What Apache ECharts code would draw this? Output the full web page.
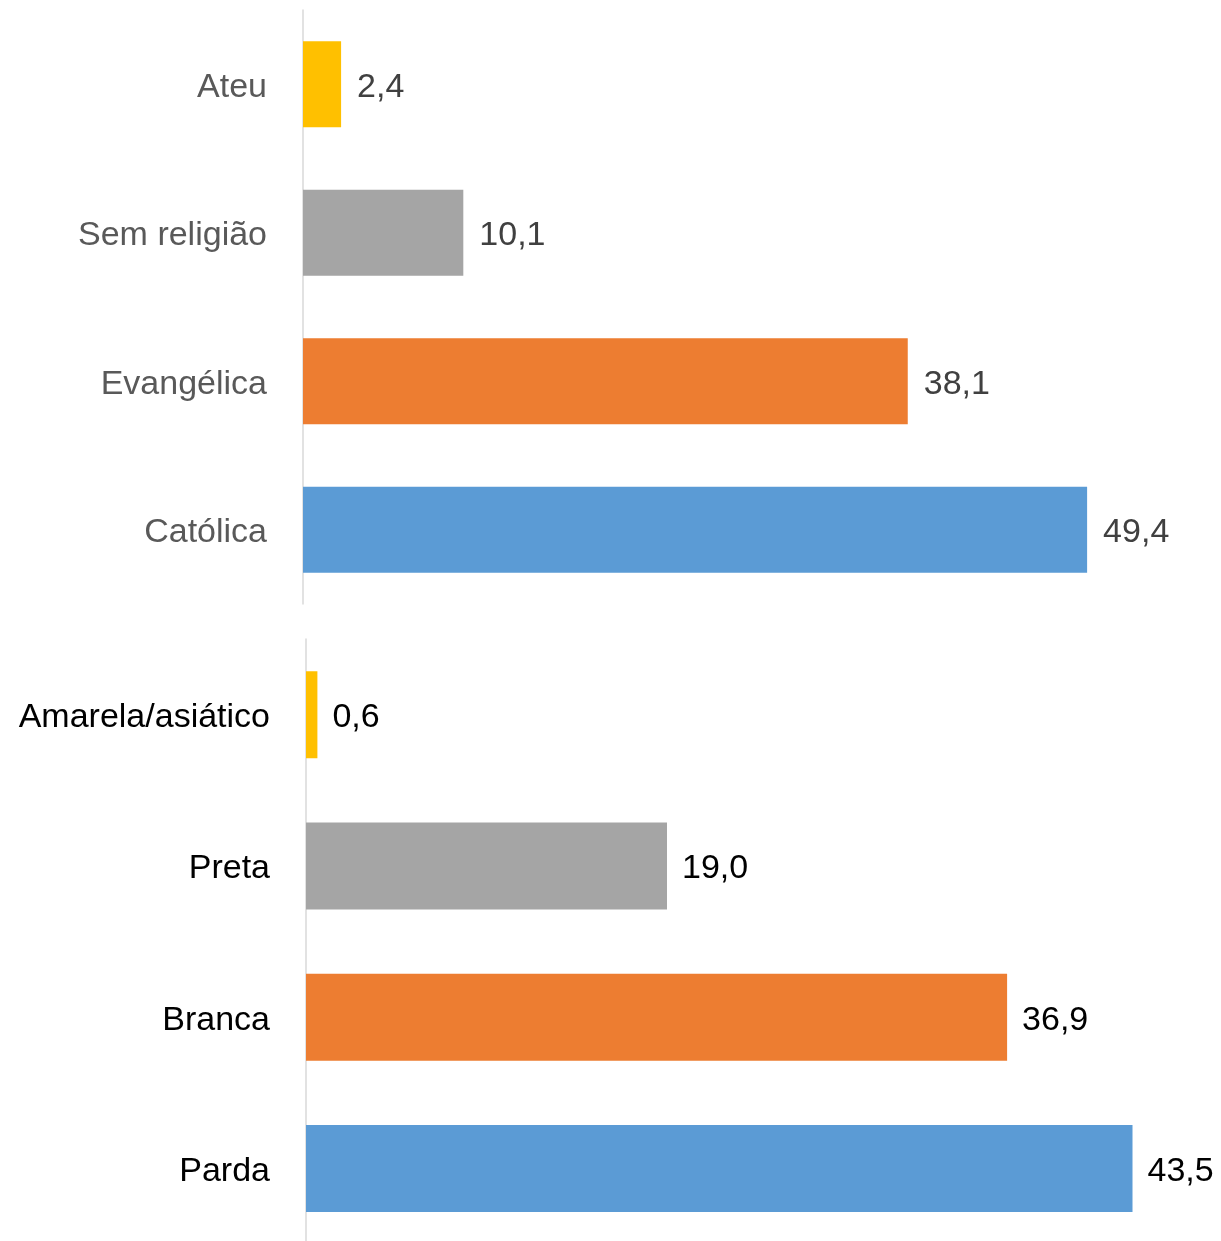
<!DOCTYPE html>
<html>
<head>
<meta charset="utf-8">
<script src="https://cdn.jsdelivr.net/npm/echarts@6/dist/echarts.min.js"></script>
<style>
  html, body { margin: 0; padding: 0; background: #fff; overflow: hidden; }
  #chart { width: 1221px; height: 1250px; }
</style>
</head>
<body>
<div id="chart"></div>
<script>
// religião (top block)
const religiaoCats = ['Ateu', 'Sem religião', 'Evangélica', 'Católica']
const religiaoVals = [2.4, 10.1, 38.1, 49.4]
// cor/raça (bottom block)
const racaCats = ['Amarela/asiático', 'Preta', 'Branca', 'Parda']
const racaVals = [0.6, 19.0, 36.9, 43.5]
const barColors = ['#FFC000', '#A5A5A5', '#ED7D31', '#5B9BD5']

const fontFamily = '"Liberation Sans", Arial, sans-serif'
const fontSize = 34
const fmt = v => v.toFixed(1).replace('.', ',')

function withColors (vals) {
  return vals.map((v, i) => ({ value: v, itemStyle: { color: barColors[i] } }))
}

// text sits a few px lower in the original, push it down via rich padding
function richText (color) {
  return { t: { fontSize: fontSize, fontFamily: fontFamily, color: color, padding: [6, 0, 0, 0] } }
}

const chart = echarts.init(document.getElementById('chart'))

const option = {
  animation: false,
  textStyle: { fontFamily: fontFamily },
  grid: [
    { left: 303, width: 873, top: 10, height: 594 },
    { left: 306, width: 874, top: 639, height: 605 }
  ],
  xAxis: [
    { gridIndex: 0, type: 'value', min: 0, max: 55, show: false },
    { gridIndex: 1, type: 'value', min: 0, max: 46, show: false }
  ],
  yAxis: [
    {
      gridIndex: 0,
      type: 'category',
      inverse: true,
      data: religiaoCats,
      axisTick: { show: false },
      axisLine: { show: true, lineStyle: { color: '#d9d9d9', width: 1.5 } },
      axisLabel: { margin: 36, formatter: v => '{t|' + v + '}', rich: richText('#595959') }
    },
    {
      gridIndex: 1,
      type: 'category',
      inverse: true,
      data: racaCats,
      axisTick: { show: false },
      axisLine: { show: true, lineStyle: { color: '#d9d9d9', width: 1.5 } },
      axisLabel: { margin: 36, formatter: v => '{t|' + v + '}', rich: richText('#000000') }
    }
  ],
  series: [
    {
      type: 'bar',
      xAxisIndex: 0,
      yAxisIndex: 0,
      barWidth: 86,
      data: withColors(religiaoVals),
      label: {
        show: true,
        position: 'right',
        distance: 16,
        formatter: p => '{t|' + fmt(p.value) + '}',
        rich: richText('#404040')
      }
    },
    {
      type: 'bar',
      xAxisIndex: 1,
      yAxisIndex: 1,
      barWidth: 87,
      data: withColors(racaVals),
      label: {
        show: true,
        position: 'right',
        distance: 15,
        formatter: p => '{t|' + fmt(p.value) + '}',
        rich: richText('#000000')
      }
    }
  ]
}

chart.setOption(option)
</script>
</body>
</html>
